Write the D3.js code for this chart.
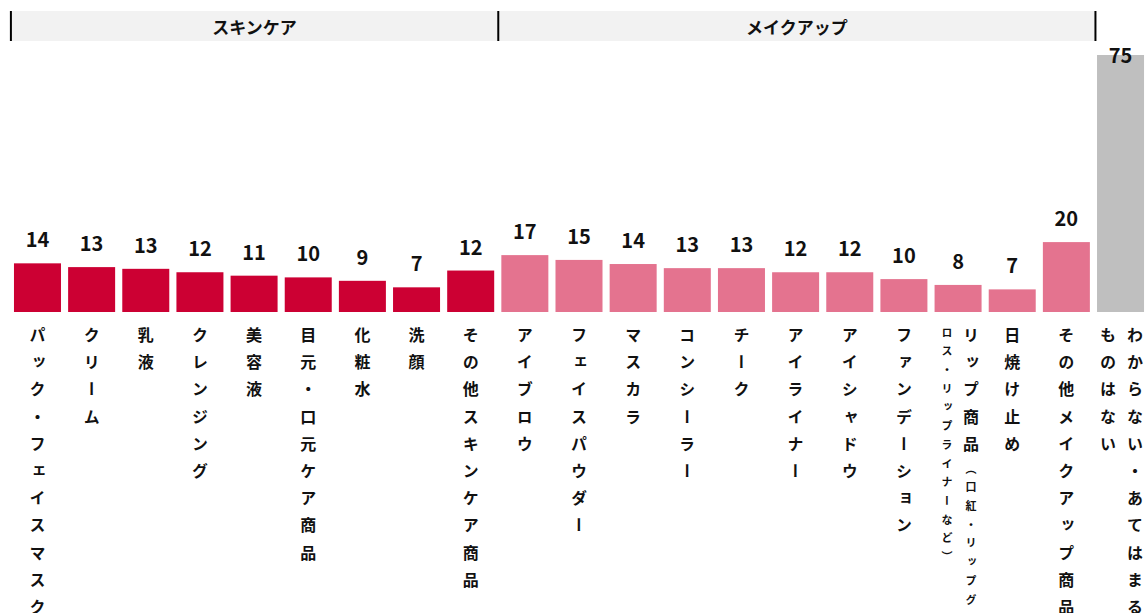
<!DOCTYPE html>
<html>
<head>
<meta charset="utf-8">
<script src="https://cdn.jsdelivr.net/npm/d3@7"></script>
<style>
  body { margin: 0; background: #fff; }
  svg { display: block; font-family: "Noto Sans CJK JP", "Noto Sans", sans-serif; }
</style>
</head>
<body>
<script>
// categories ("\n" = column break in the vertical label)
const categories = [
  "パック・フェイスマスク", "クリーム", "乳液", "クレンジング", "美容液",
  "目元・口元ケア商品", "化粧水", "洗顔", "その他スキンケア商品",
  "アイブロウ", "フェイスパウダー", "マスカラ", "コンシーラー", "チーク",
  "アイライナー", "アイシャドウ", "ファンデーション",
  "リップ商品（口紅・リップグ\nロス・リップライナーなど）",
  "日焼け止め", "その他メイクアップ商品",
  "わからない・あてはまる\nものはない"
];
// values (labels show them rounded)
const values = [14.2, 13.1, 12.6, 11.6, 10.6, 10.1, 9.1, 7.2, 12.1,
  16.6, 15.2, 14.0, 12.8, 12.8, 11.6, 11.6, 9.6, 7.9, 6.6, 20.4, 75];

const groupNames = ["スキンケア", "メイクアップ"];
const groupCounts = [9, 11];
const groupColors = ["#cc0033", "#e4738f"];
const otherColor = "#bfbfbf";

const width = 1147;
const height = 613;

const svg = d3.select("body")
  .append("svg")
  .attr("width", width)
  .attr("height", height);

const x = d3.scaleBand()
  .domain(d3.range(categories.length))
  .range([10.4, 1147.6])
  .paddingInner(0.132)
  .paddingOuter(0.066);

const y = d3.scaleLinear()
  .domain([0, 75])
  .range([312, 55]);

const bw = x.bandwidth();
const gap = x.step() - bw;

// which group each bar belongs to (-1 = none)
const groupStarts = Array.from(d3.cumsum([0].concat(groupCounts))).slice(0, groupCounts.length);
const groupOf = i => {
  for (let g = 0; g < groupCounts.length; g++) {
    if (i >= groupStarts[g] && i < groupStarts[g] + groupCounts[g]) return g;
  }
  return -1;
};

// header band
const edges = groupStarts.map(s => x(s) - gap / 2 + 0.5);
const lastEnd = groupStarts[groupStarts.length - 1] + groupCounts[groupCounts.length - 1];
edges.push(x(lastEnd) - gap / 2 + 2);

const header = svg.append("g");
header.append("rect")
  .attr("x", edges[0])
  .attr("y", 11)
  .attr("width", edges[edges.length - 1] - edges[0])
  .attr("height", 30)
  .attr("fill", "#f2f2f2");

header.selectAll("line")
  .data(edges)
  .enter()
  .append("line")
  .attr("x1", d => d)
  .attr("x2", d => d)
  .attr("y1", 11)
  .attr("y2", 41)
  .attr("stroke", "#000")
  .attr("stroke-width", 2);

header.selectAll("text")
  .data(groupNames)
  .enter()
  .append("text")
  .attr("x", (d, g) => (edges[g] + edges[g + 1]) / 2)
  .attr("y", 26)
  .attr("text-anchor", "middle")
  .attr("dominant-baseline", "central")
  .attr("font-size", 17)
  .attr("font-weight", "bold")
  .attr("fill", "#111")
  .text(d => d);

// bars
svg.append("g")
  .selectAll("rect")
  .data(values)
  .enter()
  .append("rect")
  .attr("x", (d, i) => x(i))
  .attr("y", d => y(d))
  .attr("width", bw)
  .attr("height", d => y(0) - y(d))
  .attr("fill", (d, i) => groupOf(i) < 0 ? otherColor : groupColors[groupOf(i)]);

// value labels
const fmt = d3.format(".0f");
svg.append("g")
  .selectAll("text")
  .data(values)
  .enter()
  .append("text")
  .attr("x", (d, i) => x(i) + bw / 2)
  .attr("y", d => Math.max(y(d) - 16, 63))
  .attr("text-anchor", "middle")
  .attr("font-size", 20)
  .attr("font-weight", "bold")
  .attr("fill", "#111")
  .text(d => fmt(d));

// vertical category labels
const labels = svg.append("g");
categories.forEach((name, i) => {
  const cols = name.split("\n");
  const cx = x(i) + bw / 2 + (cols.length > 1 ? 1 : 0);
  const hasSmall = name.includes("（");
  const colGap = hasSmall ? 24 : 27;
  let small = false;
  cols.forEach((col, j) => {
    const t = labels.append("text")
      .attr("x", cx + ((cols.length - 1) / 2 - j) * colGap)
      .attr("y", 327)
      .style("writing-mode", "vertical-rl")
      .attr("font-weight", "bold")
      .attr("fill", "#111");
    // text from "（" on is set smaller
    const parts = [];
    const k = small ? 0 : col.indexOf("（");
    if (small) parts.push([col, true]);
    else if (k < 0) parts.push([col, false]);
    else { parts.push([col.slice(0, k), false]); parts.push([col.slice(k), true]); small = true; }
    parts.forEach(([s, sm]) => {
      t.append("tspan")
        .attr("font-size", sm ? 11 : 16)
        .style("letter-spacing", "0.7em")
        .text(s);
    });
  });
});
</script>
</body>
</html>
